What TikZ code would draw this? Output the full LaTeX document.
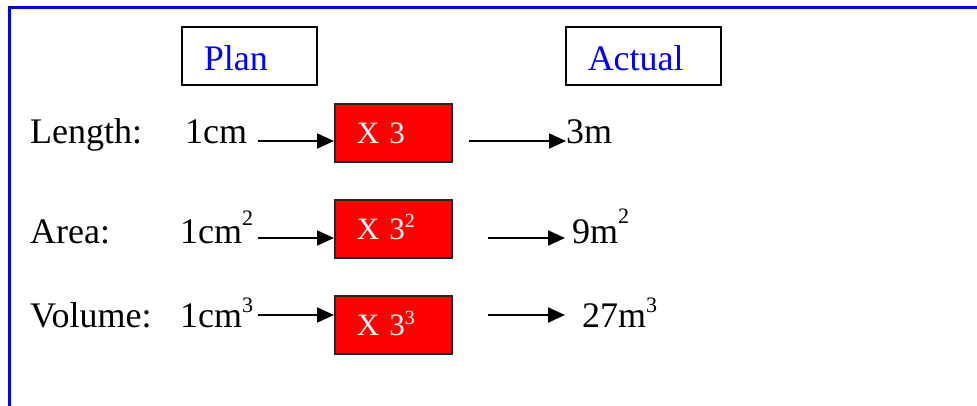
\documentclass[tikz,border=0pt]{standalone}
\usepackage{fontspec}
\setmainfont{Liberation Serif}
\usetikzlibrary{arrows.meta,positioning}

% raised small exponent
\newcommand{\expo}[3][22]{\raisebox{#2pt}{\fontsize{#1}{#1}\selectfont #3}}

\begin{document}
\begin{tikzpicture}[
        x=1pt, y=-1pt,
        % Global Styles
        frame/.style={draw=blue, line width=3pt},
        hdrbox/.style={rectangle, draw=black, line width=1.5pt, anchor=north west, inner xsep=22pt, inner ysep=0pt, align=left, minimum height=58pt, text height=30pt, text depth=0pt, text=blue, font=\fontsize{36}{40}\selectfont},
        factor/.style={rectangle, draw=black!85, line width=1.5pt, fill=red, anchor=north west, inner xsep=22pt, inner ysep=0pt, text width=73pt, align=left, minimum height=58pt, text height=22pt, text depth=0pt, text=white, font=\fontsize{31}{34}\selectfont},
        word/.style={anchor=base west, inner sep=0pt, font=\fontsize{36}{40}\selectfont},
        arrow/.style={line width=2pt, -{Triangle[length=17pt,width=15pt]}}
    ]

    \clip (0,0) rectangle (977,405);

    % --- Outer frame ---
    \draw[frame] (9.5,420) |- (990,7.5);

    % --- Headings ---
    \node (plan)   [hdrbox, text width=91pt]  at (181,26) {Plan};
    \node (actual) [hdrbox, text width=111pt] at (565,26) {Actual};

    % --- Row labels ---
    \node (len)  [word] at (30,143) {Length:};
    \node (area) [word] at (30,243) {Area:};
    \node (vol)  [word] at (30,327) {Volume:};

    % --- Plan values ---
    \node (cm1) [word] at (185,143) {1cm};
    \node (cm2) [word] at (180,243) {1cm\expo{18}{2}};
    \node (cm3) [word] at (180,327) {1cm\expo{15}{3}};

    % --- Scale factors ---
    \node (box1) [factor] at (334,103) {X 3};
    \node (box2) [factor] at (334,199) {X 3\expo[20]{12}{2}};
    \node (box3) [factor] at (334,295) {X 3\expo[20]{11}{3}};

    % --- Actual values ---
    \node (res1) [word] at (566,143) {3m};
    \node (res2) [word] at (572,243) {9m\expo{20}{2}};
    \node (res3) [word] at (582,327) {27m\expo{15}{3}};

    % --- Arrows ---
    \coordinate (l1) at (258,141);
    \coordinate (l2) at (258,238);
    \coordinate (l3) at (258,315);
    \coordinate (r1) at (469,141);
    \coordinate (r2) at (488,238);
    \coordinate (r3) at (488,315);

    \draw[arrow] (l1) -- (l1 -| box1.west);
    \draw[arrow] (l2) -- (l2 -| box2.west);
    \draw[arrow] (l3) -- (l3 -| box3.west);

    \draw[arrow] (r1) -- (r1 -| res1.west);
    \draw[arrow] (r2) -- ([xshift=-7pt]r2 -| res2.west);
    \draw[arrow] (r3) -- ([xshift=-17pt]r3 -| res3.west);

\end{tikzpicture}
\end{document}
